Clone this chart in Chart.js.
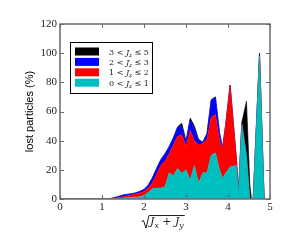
<!DOCTYPE html>
<html>
<head>
<meta charset="utf-8">
<script src="https://cdn.jsdelivr.net/npm/chart.js@4.4.0/dist/chart.umd.min.js"></script>
<style>
  html, body { margin: 0; padding: 0; background: #fff; }
</style>
</head>
<body>
<canvas id="myChart" width="300" height="240"></canvas>
<script>
// sqrt(Jx + Jy) positions
const xVals = [0, 0.9, 1.0, 1.1, 1.2, 1.3, 1.4, 1.5, 1.6, 1.7, 1.8, 1.9, 2.0, 2.1, 2.2, 2.3, 2.4, 2.5,
  2.6, 2.7, 2.8, 2.9, 3.0, 3.1, 3.2, 3.3, 3.4, 3.5, 3.6, 3.7, 3.8, 3.87, 3.95, 4.05, 4.2, 4.25,
  4.33, 4.44, 4.52, 4.56, 4.6, 4.75, 4.86];

// lost particles (%) per Jz band (stacked layers)
const lostJz01 = [0, 0, 0.4, 0, 0.1, 0.3, 0.5, 0.7, 0.8, 1.0, 1.2, 1.5, 2.5, 4.5, 7, 7.5, 7.5, 8.5,
  18, 16, 21, 17.5, 20, 13, 23, 11, 18, 18, 30, 31.5, 20, 14, 18, 22, 23, 4,
  51, 30, 0, 0, 0, 98, 0];
const lostJz12 = [0, 0, 0, 0, 0.1, 0.3, 0.5, 0.9, 1.4, 1.8, 2.2, 2.7, 2.7, 3.0, 4, 9.5, 15.5, 17.5,
  13, 21, 22, 26.5, 16, 34, 17, 26, 20, 23, 26, 26.5, 20, 20, 34, 56, 4, 1,
  1, 0, 0, 0, 0, 0, 0];
const lostJz23 = [0, 0, 0, 0, 0.1, 0.4, 0.8, 1.1, 1.0, 0.8, 0.8, 1.0, 1.3, 2.0, 3.5, 4, 4, 5,
  5, 5, 6, 6, 3, 7, 8, 3, 1, 4, 12, 12, 5, 1, 0, 0, 0, 0,
  0, 0, 0, 0, 0, 2, 0];
const lostJz35 = [0, 0, 0, 0, 0, 0, 0, 0, 0, 0, 0, 0, 0, 0, 0, 0, 0, 0,
  0, 0, 0.5, 2, 1, 1.5, 2, 1, 0, 0, 0, 0, 0, 0, 0, 0, 0, 0,
  1, 37, 10, 0, 0, 0, 0];

const xTicks = [0, 1, 2, 3, 4, 5];
const yTicks = [0, 20, 40, 60, 80, 100, 120];

const bandLabels = ["3 < J_z ≤ 5", "2 < J_z ≤ 3", "1 < J_z ≤ 2", "0 < J_z ≤ 1"];
const bandColors = ["#000000", "#0000ff", "#ff0000", "#00bfbf"];

function pts(arr) {
  return xVals.map((x, i) => ({ x: x, y: arr[i] }));
}

// draw "a < J_z <= b" style text with italic J and a subscript
function drawMath(ctx, parts, x, y, size) {
  ctx.textBaseline = "alphabetic";
  ctx.textAlign = "left";
  parts.forEach((p) => {
    const s = p.sub ? size * 0.7 : size;
    ctx.font = (p.it ? "italic " : "") + s + "px 'DejaVu Serif', 'Liberation Serif', serif";
    ctx.fillText(p.t, x, y + (p.sub ? size * 0.25 : 0));
    x += ctx.measureText(p.t).width;
  });
  return x;
}
function mathWidth(ctx, parts, size) {
  let w = 0;
  parts.forEach((p) => {
    const s = p.sub ? size * 0.7 : size;
    ctx.font = (p.it ? "italic " : "") + s + "px 'DejaVu Serif', 'Liberation Serif', serif";
    w += ctx.measureText(p.t).width;
  });
  return w;
}
function splitLabel(lbl) {
  // "3 < J_z ≤ 5" -> parts
  const a = lbl.split("J_z");
  return [{ t: a[0] }, { t: "J", it: true }, { t: "z", it: true, sub: true }, { t: a[1] }];
}

const framePlugin = {
  id: "frame",
  afterDatasetsDraw(chart) {
    const { ctx, chartArea: a, scales } = chart;
    ctx.save();
    ctx.strokeStyle = "#6a6a6a";
    ctx.lineWidth = 1.5;
    ctx.strokeRect(a.left, a.top, a.right - a.left, a.bottom - a.top);
    // inward ticks on all sides
    ctx.lineWidth = 1;
    ctx.beginPath();
    xTicks.forEach((v) => {
      const px = Math.round(scales.x.getPixelForValue(v)) + 0.5;
      ctx.moveTo(px, a.bottom); ctx.lineTo(px, a.bottom - 4);
      ctx.moveTo(px, a.top); ctx.lineTo(px, a.top + 4);
    });
    yTicks.forEach((v) => {
      const py = Math.round(scales.y.getPixelForValue(v)) + 0.5;
      ctx.moveTo(a.left, py); ctx.lineTo(a.left + 4, py);
      ctx.moveTo(a.right, py); ctx.lineTo(a.right - 4, py);
    });
    ctx.stroke();

    // legend box
    const lx = 70.5, ly = 42.5, lw = 82, lh = 51;
    ctx.fillStyle = "#fff";
    ctx.fillRect(lx, ly, lw, lh);
    ctx.strokeStyle = "#000";
    ctx.strokeRect(lx, ly, lw, lh);
    bandLabels.forEach((lbl, i) => {
      const cy = 51.5 + i * 10.4;
      ctx.fillStyle = bandColors[i];
      ctx.fillRect(75, cy - 4, 24, 8);
      ctx.fillStyle = "#222";
      drawMath(ctx, splitLabel(lbl), 109, cy + 3, 8);
    });

    // x axis title: sqrt(Jx + Jy)
    const parts = [{ t: "J", it: true }, { t: "x", it: true, sub: true }, { t: " + " },
      { t: "J", it: true }, { t: "y", it: true, sub: true }];
    const tw = mathWidth(ctx, parts, 11);
    const tx = 150;
    ctx.fillStyle = "#222";
    ctx.strokeStyle = "#222";
    drawMath(ctx, parts, tx, 225, 11);
    ctx.beginPath();
    ctx.moveTo(141.5, 221.5);
    ctx.lineTo(143.5, 220.5);
    ctx.lineTo(146, 228);
    ctx.lineTo(149, 215.5);
    ctx.lineTo(tx + tw + 1, 215.5);
    ctx.stroke();
    ctx.restore();
  },
};

const ctx = document.getElementById("myChart");
const myChart = new Chart(ctx, {
  type: "line",
  data: {
    datasets: [
      { label: bandLabels[3], data: pts(lostJz01), backgroundColor: bandColors[3], borderColor: bandColors[3], fill: "origin" },
      { label: bandLabels[2], data: pts(lostJz12), backgroundColor: bandColors[2], borderColor: bandColors[2], fill: "-1" },
      { label: bandLabels[1], data: pts(lostJz23), backgroundColor: bandColors[1], borderColor: bandColors[1], fill: "-1" },
      { label: bandLabels[0], data: pts(lostJz35), backgroundColor: bandColors[0], borderColor: bandColors[0], fill: "-1" },
    ],
  },
  options: {
    responsive: false,
    animation: false,
    elements: {
      point: { radius: 0 },
      line: { borderWidth: 0.6, tension: 0 },
    },
    layout: { padding: { top: 24, right: 30, left: 0, bottom: 0 } },
    scales: {
      x: {
        type: "linear",
        min: 0,
        max: 5,
        grid: { display: false, drawTicks: false },
        border: { display: false },
        ticks: {
          stepSize: 1,
          padding: 2,
          color: "#222",
          font: { family: "'Liberation Serif', serif", size: 11 },
        },
        afterFit: (s) => { s.height = 41; },
      },
      y: {
        stacked: true,
        min: 0,
        max: 120,
        grid: { display: false, drawTicks: false },
        border: { display: false },
        ticks: {
          stepSize: 20,
          padding: 3,
          color: "#222",
          font: { family: "'Liberation Serif', serif", size: 11 },
        },
        title: {
          display: true,
          text: "lost particles (%)",
          color: "#000",
          font: { family: "'Liberation Sans', Arial, sans-serif", size: 11 },
          padding: { top: 23 },
        },
        afterFit: (s) => { s.width = 60; },
      },
    },
    plugins: {
      legend: { display: false },
      tooltip: { enabled: false },
    },
  },
  plugins: [framePlugin],
});
</script>
</body>
</html>
